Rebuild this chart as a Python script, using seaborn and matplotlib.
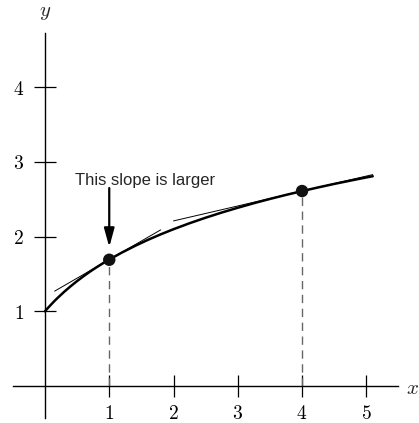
import matplotlib
matplotlib.use("Agg")
import matplotlib.pyplot as plt
import seaborn as sns
import pandas as pd

# curve values
curve_x = [0, 0.02, 0.05, 0.1, 0.15, 0.2, 0.3, 0.4, 0.5, 0.6, 0.7, 0.8, 0.9, 1.0,
           1.2, 1.4, 1.6, 1.8, 2.0, 2.25, 2.5, 2.75, 3.0, 3.25, 3.5, 3.75, 4.0,
           4.25, 4.5, 4.75, 5.0, 5.1]
curve_y = [1.0, 1.02, 1.049, 1.095, 1.140, 1.182, 1.262, 1.336, 1.405, 1.470, 1.531,
           1.588, 1.642, 1.693, 1.788, 1.875, 1.956, 2.030, 2.099, 2.179, 2.253,
           2.322, 2.386, 2.447, 2.504, 2.558, 2.609, 2.658, 2.705, 2.749, 2.792, 2.808]

# marked points
point_x = [1, 4]
point_y = [1.69, 2.61]

# tangent segments
tan1_x = [0.15, 1.8]
tan1_y = [1.27, 2.09]
tan2_x = [2.0, 5.1]
tan2_y = [2.21, 2.83]

x_ticks = [1, 2, 3, 4, 5]
y_ticks = [1, 2, 3, 4]

sns.set_style("white")
plt.rcParams["mathtext.fontset"] = "cm"

fig = plt.figure(figsize=(4.19, 4.23), dpi=100)
ax = fig.add_axes([0, 0, 1, 1])

df = pd.DataFrame({"x": curve_x, "y": curve_y})
sns.lineplot(data=df, x="x", y="y", ax=ax, color="black", linewidth=1.8)
sns.lineplot(x=tan1_x, y=tan1_y, ax=ax, color="black", linewidth=0.7)
sns.lineplot(x=tan2_x, y=tan2_y, ax=ax, color="black", linewidth=0.7)

for px, py in zip(point_x, point_y):
    ax.plot([px, px], [0, py], color="#666666", linewidth=1.0, dashes=(6, 4))
sns.scatterplot(x=point_x, y=point_y, ax=ax, color="#111111", s=80, edgecolor="none", zorder=5)

# arrow with label
ax.annotate("", xy=(point_x[0], 1.86), xytext=(point_x[0], 2.65),
            arrowprops=dict(arrowstyle="-|>,head_length=0.8,head_width=0.22",
                            color="black", lw=1.6,
                            mutation_scale=14, shrinkA=0, shrinkB=0))
ax.text(0.47, 2.69, "This slope is larger", family="Liberation Sans",
        fontsize=12, ha="left", va="baseline")

ax.set_xlim(-0.70, 5.82)
ax.set_ylim(-0.495, 5.167)

for s in ["top", "right"]:
    ax.spines[s].set_visible(False)
ax.spines["left"].set_position(("data", 0))
ax.spines["bottom"].set_position(("data", 0))
ax.spines["left"].set_bounds(-0.43, 4.72)
ax.spines["bottom"].set_bounds(-0.5, 5.49)
for s in ["left", "bottom"]:
    ax.spines[s].set_linewidth(1.0)
    ax.spines[s].set_color("black")

ax.set_xticks(x_ticks)
ax.set_xticklabels([f"${t}$" for t in x_ticks])
ax.set_yticks(y_ticks)
ax.set_yticklabels([f"${t}$" for t in y_ticks])
ax.tick_params(axis="both", direction="inout", length=16, width=0.9, labelsize=14,
               colors="black", bottom=True, left=True)
ax.tick_params(axis="x", pad=5)
ax.tick_params(axis="y", pad=7)
ax.set_xlabel("")
ax.set_ylabel("")

ax.text(0, 5.0, "$y$", fontsize=15, ha="center", va="center")
ax.text(5.61, -0.03, "$x$", fontsize=15, ha="left", va="center")

fig.savefig("out.png", dpi=100)
